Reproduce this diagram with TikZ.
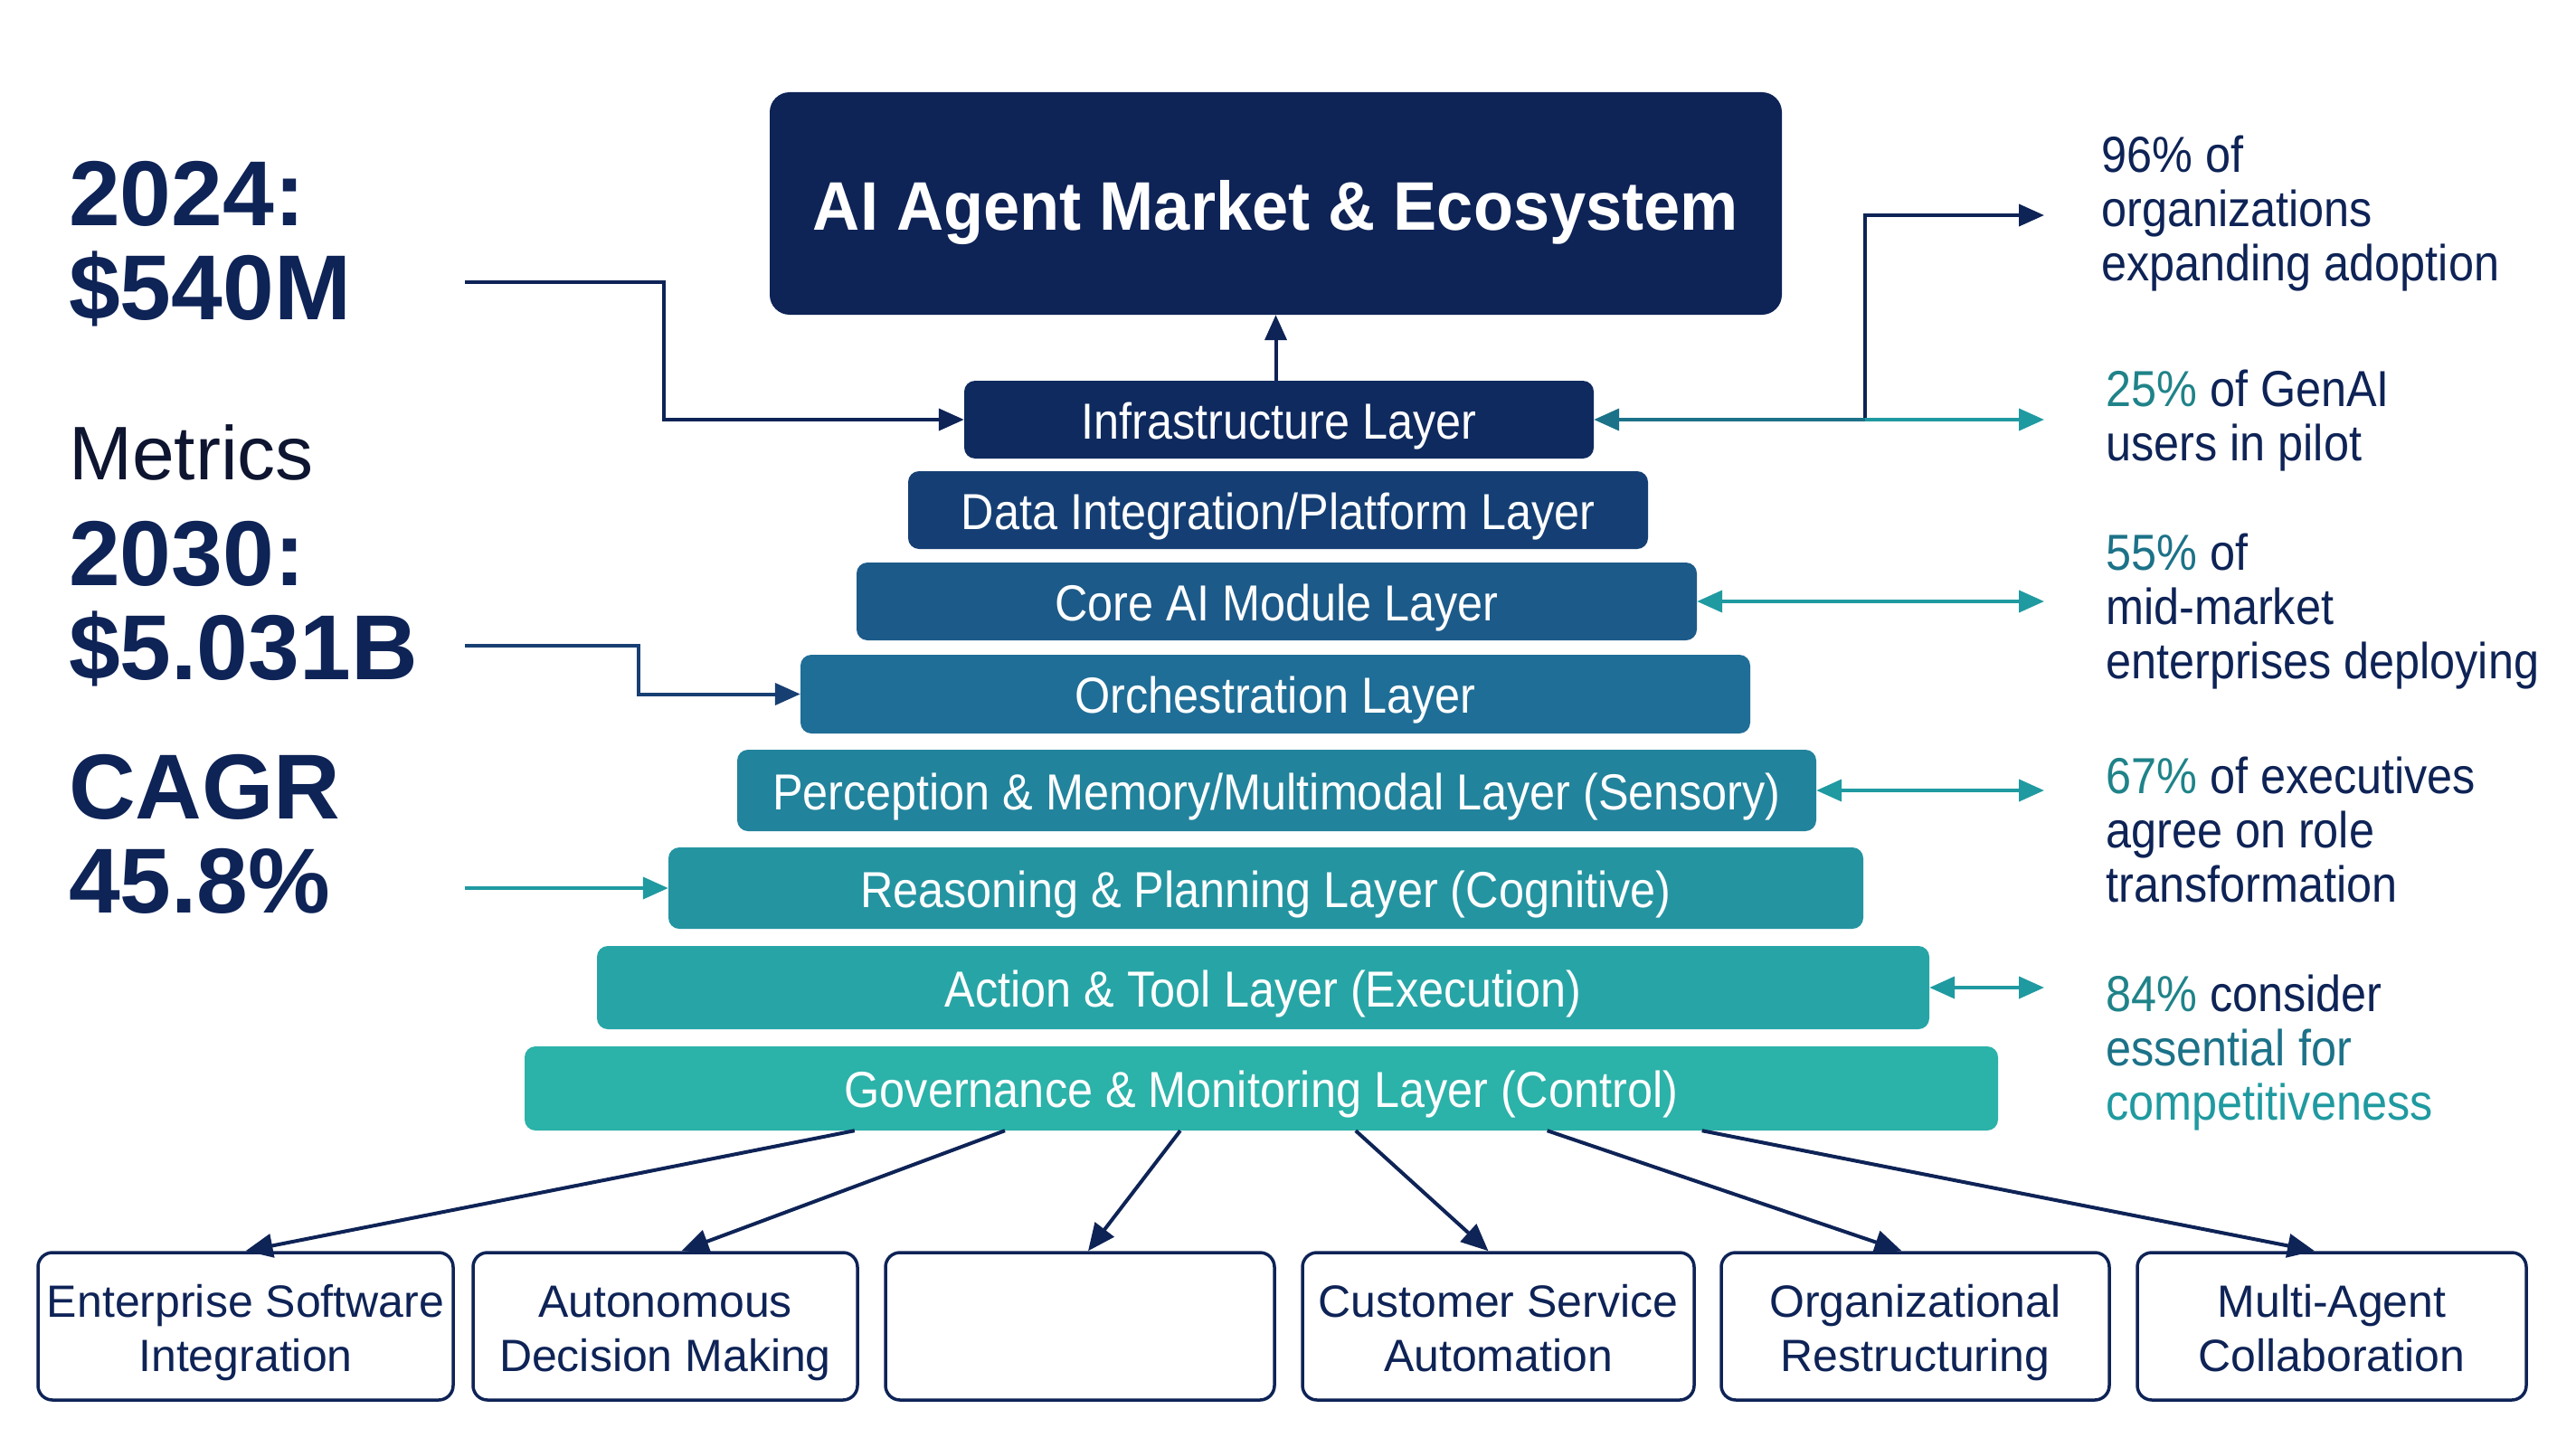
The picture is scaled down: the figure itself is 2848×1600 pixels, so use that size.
\documentclass[tikz,border=0pt]{standalone}
\usepackage{fontspec}
\setmainfont{Liberation Sans}
\newfontfamily\condfont[FakeStretch=0.9]{Liberation Sans}
\newfontfamily\titlefont[FakeStretch=0.95]{Liberation Sans}
\usetikzlibrary{arrows.meta,calc}
\definecolor{navy}{HTML}{0E2356}
\definecolor{navyB}{HTML}{173F72}
\definecolor{inkdark}{HTML}{0D1530}
\definecolor{cInfra}{HTML}{0F2A5F}
\definecolor{cData}{HTML}{153F74}
\definecolor{cCore}{HTML}{1C5A89}
\definecolor{cOrch}{HTML}{1F6E97}
\definecolor{cPerc}{HTML}{22839C}
\definecolor{cReas}{HTML}{2494A1}
\definecolor{cAct}{HTML}{27A5A6}
\definecolor{cGov}{HTML}{2BB2A9}
\definecolor{tealA}{HTML}{1F9AA0}
\definecolor{tealB}{HTML}{1C7288}
\definecolor{tealT}{HTML}{1F8389}
\newcommand{\ucTop}{\rule{0pt}{50pt}}
\newcommand{\ucBot}{\rule[-11pt]{0pt}{11pt}}
\begin{document}
\begin{tikzpicture}[x=1pt,y=-1pt,
  layerbox/.style={rectangle, rounded corners=12pt, inner sep=0pt, text=white,
    font=\condfont\fontsize{56}{60}\selectfont, execute at begin node={\rule{0pt}{54pt}}},
  usecase/.style={rectangle, rounded corners=16pt, draw=navy, line width=3.5pt, fill=white,
    inner sep=0pt, minimum height=163pt, text=navy, align=center,
    font=\fontsize{50}{60}\selectfont},
  rtext/.style={anchor=north west, inner sep=0pt, align=left, text=navy,
    font=\condfont\fontsize{56}{60}\selectfont, execute at begin node={\rule{0pt}{45pt}}},
  ltext/.style={anchor=north west, inner sep=0pt, align=left, text=navy,
    font=\bfseries\fontsize{102}{104}\selectfont, execute at begin node={\rule{0pt}{85pt}}},
  conn/.style={line width=4pt, -{Triangle[length=28pt,width=24pt]}},
  dconn/.style={line width=4pt, {Triangle[length=28pt,width=24pt]}-{Triangle[length=28pt,width=24pt]}},
  rconn/.style={line width=4pt, {Triangle[length=28pt,width=24pt]}-},
  bconn/.style={line width=4pt, draw=navy, -{Triangle[length=30pt,width=26pt]}}
]
\useasboundingbox (0,0) rectangle (2848,1600);
\fill[white] (0,0) rectangle (2848,1600);

% title
\node[fill=navy, rounded corners=22pt, minimum width=1119pt, minimum height=246pt, inner sep=0pt,
  text=white, font=\titlefont\bfseries\fontsize{76}{80}\selectfont,
  execute at begin node={\rule{0pt}{75pt}}] (title) at (1410.5,225) {AI Agent Market \& Ecosystem};

% layers
\node[layerbox, fill=cInfra, minimum width=696pt, minimum height=86pt] (infra) at (1414,464) {Infrastructure Layer};
\node[layerbox, fill=cData, minimum width=818pt, minimum height=86pt] (data) at (1413,564) {Data Integration/Platform Layer};
\node[layerbox, fill=cCore, minimum width=929pt, minimum height=86pt] (core) at (1411.5,665) {Core AI Module Layer};
\node[layerbox, fill=cOrch, minimum width=1050pt, minimum height=87pt] (orch) at (1410,767.5) {Orchestration Layer};
\node[layerbox, fill=cPerc, minimum width=1193pt, minimum height=90pt] (perc) at (1411.5,874) {Perception \& Memory/Multimodal Layer (Sensory)};
\node[layerbox, fill=cReas, minimum width=1321pt, minimum height=90pt] (reas) at (1399.5,982) {Reasoning \& Planning Layer (Cognitive)};
\node[layerbox, fill=cAct, minimum width=1473pt, minimum height=92pt] (act) at (1396.5,1092) {Action \& Tool Layer (Execution)};
\node[layerbox, fill=cGov, minimum width=1629pt, minimum height=93pt] (gov) at (1394.5,1203.5) {Governance \& Monitoring Layer (Control)};

% use-case boxes
\node[usecase, minimum width=459pt] (b1) at (271.5,1466.5) {\ucTop Enterprise Software\\Integration\ucBot};
\node[usecase, minimum width=425pt] (b2) at (735.5,1466.5) {\ucTop Autonomous\\Decision Making\ucBot};
\node[usecase, minimum width=430pt] (b3) at (1194,1466.5) {};
\node[usecase, minimum width=433pt] (b4) at (1656.5,1466.5) {\ucTop Customer Service\\Automation\ucBot};
\node[usecase, minimum width=429pt] (b5) at (2117.5,1466.5) {\ucTop Organizational\\Restructuring\ucBot};
\node[usecase, minimum width=430pt] (b6) at (2578,1466.5) {\ucTop Multi-Agent\\Collaboration\ucBot};

% left metrics
\node[ltext] (m2024) at (76,178) {2024:\\\$540M};
\node[anchor=base west, inner sep=0pt, text=inkdark, font=\fontsize{84}{90}\selectfont] (metrics) at (76,530) {Metrics};
\node[ltext] (m2030) at (76,576) {2030:\\\$5.031B};
\node[ltext] (mcagr) at (76,834) {CAGR\\45.8\%};

% right statistics
\node[rtext] (s96) at (2323,150) {96\% of\\organizations\\expanding adoption};
\node[rtext] (s25) at (2328,409) {\textcolor{tealT}{25\%} of GenAI\\users in pilot};
\node[rtext] (s55) at (2328,590) {\textcolor{tealB}{55\%} of\\mid-market\\enterprises deploying};
\node[rtext] (s67) at (2328,837) {\textcolor{tealT}{67\%} of executives\\agree on role\\transformation};
\node[rtext] (s84) at (2328,1078) {\textcolor{tealT}{84\%} consider\\\textcolor{tealB}{essential for}\\\textcolor{tealA}{competitiveness}};

% left connectors
\coordinate (l1s) at (514,312);
\coordinate (l1c) at (734,312);
\coordinate (l2s) at (514,714);
\coordinate (l2c) at (706,714);
\coordinate (l3s) at (514,982);
\draw[conn, navy] (l1s) -- (l1c) |- (infra.west);
\draw[conn, navyB] (l2s) -- (l2c) |- (orch.west);
\draw[conn, tealA] (l3s) -- (reas.west);

% to title
\draw[conn, navy] (title.south |- infra.north) -- (title.south);

% right connectors
\coordinate (rj) at (2062,464);
\coordinate (a96) at (2260,238);
\coordinate (a25) at (2260,464);
\coordinate (a55) at (2260,665);
\coordinate (a67) at (2260,874);
\coordinate (a84) at (2260,1092);
\draw[conn, navy] (rj) |- (a96);
\draw[conn, tealA] (rj) -- (a25);
\draw[rconn, tealB] (infra.east) -- (rj);
\draw[dconn, tealA] (core.east) -- (a55);
\draw[dconn, tealA] (perc.east) -- (a67);
\draw[dconn, tealA] (act.east) -- (a84);

% bottom connectors
\draw[bconn] ($(gov.south west)!0.224!(gov.south east)$) -- (b1.north);
\draw[bconn] ($(gov.south west)!0.326!(gov.south east)$) -- ([xshift=18pt]b2.north);
\draw[bconn] ($(gov.south west)!0.445!(gov.south east)$) -- ([xshift=9pt]b3.north);
\draw[bconn] ($(gov.south west)!0.564!(gov.south east)$) -- ([xshift=-11pt]b4.north);
\draw[bconn] ($(gov.south west)!0.694!(gov.south east)$) -- ([xshift=-15pt]b5.north);
\draw[bconn] ($(gov.south west)!0.799!(gov.south east)$) -- ([xshift=-19pt]b6.north);
\end{tikzpicture}
\end{document}
